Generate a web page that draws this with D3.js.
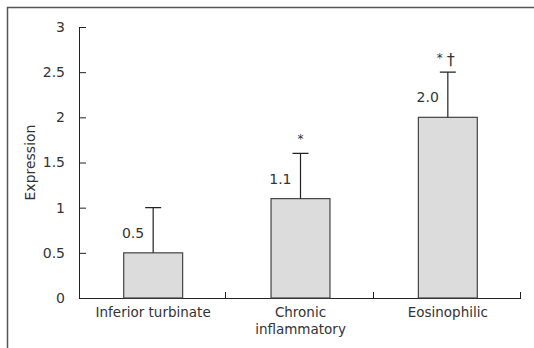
<!DOCTYPE html>
<html>
<head>
<meta charset="utf-8">
<script src="https://cdn.jsdelivr.net/npm/d3@7"></script>
<style>
  body { margin: 0; background: #fff; }
  text { font-family: "DejaVu Sans", sans-serif; fill: #333; }
</style>
</head>
<body>
<svg id="chart" width="534" height="348"></svg>
<script>
var categories = ["Inferior turbinate", "Chronic\ninflammatory", "Eosinophilic"];
var means = [0.5, 1.1, 2.0];
var sds = [0.5, 0.5, 0.5];
var valueLabels = ["0.5", "1.1", "2.0"];
var marks = ["", "*", "* \u2020"];
var yTicks = [0, 0.5, 1, 1.5, 2, 2.5, 3];

var svg = d3.select("#chart");
var mLeft = 79, mRight = 521, mTop = 27, mBottom = 298;

// frame (left + top only)
svg.append("path")
  .attr("d", "M7.5,348 V7.5 H534")
  .attr("fill", "none")
  .attr("stroke", "#555")
  .attr("stroke-width", 1.5);

var x = d3.scaleBand().domain(d3.range(categories.length)).range([mLeft, mRight]).paddingInner(0.6).paddingOuter(0.3);
var xb = d3.scaleBand().domain(d3.range(categories.length)).range([mLeft, mRight]);
var y = d3.scaleLinear().domain([0, 3]).range([mBottom, mTop]);

// y axis
var yAxis = svg.append("g").attr("transform", "translate(" + mLeft + ",0)")
  .call(d3.axisLeft(y).tickValues(yTicks).tickSize(-7).tickPadding(14).tickFormat(d3.format("")));
yAxis.select(".domain").attr("stroke", "#222").attr("d", "M0.5," + mTop + "V" + mBottom);
yAxis.selectAll(".tick line").attr("stroke", "#222");
yAxis.selectAll(".tick text").style("font-size", "14px").style("font-family", "DejaVu Sans").attr("fill", "#333");

// x axis line with ticks between categories
svg.append("line").attr("x1", mLeft).attr("x2", mRight).attr("y1", mBottom + 0.5).attr("y2", mBottom + 0.5).attr("stroke", "#222");
svg.selectAll(".xtick").data(d3.range(1, categories.length + 1)).enter().append("line")
  .attr("x1", function (i) { return Math.round(xb.step() * i + mLeft) - 0.5; })
  .attr("x2", function (i) { return Math.round(xb.step() * i + mLeft) - 0.5; })
  .attr("y1", mBottom).attr("y2", mBottom - 6)
  .attr("stroke", "#222");

// bars
svg.selectAll(".bar").data(means).enter().append("rect")
  .attr("x", function (d, i) { return x(i) + 0.5; })
  .attr("y", function (d) { return y(d); })
  .attr("width", x.bandwidth())
  .attr("height", function (d) { return y(0) - y(d); })
  .attr("fill", "#dcdcdc")
  .attr("stroke", "#444")
  .attr("stroke-width", 1.2);

// error bars
var cx = function (i) { return x(i) + x.bandwidth() / 2 + 0.5; };
svg.selectAll(".err").data(means).enter().append("path")
  .attr("d", function (d, i) {
    var c = cx(i), t = y(d + sds[i]);
    return "M" + c + "," + y(d) + "V" + t + "M" + (c - 8) + "," + t + "H" + (c + 8);
  })
  .attr("fill", "none").attr("stroke", "#222").attr("stroke-width", 1.2);

// value labels
svg.selectAll(".val").data(means).enter().append("text")
  .attr("x", function (d, i) { return cx(i) - 9; })
  .attr("y", function (d) { return y(d) - 15; })
  .attr("text-anchor", "end")
  .style("font-size", "14px")
  .text(function (d, i) { return valueLabels[i]; });

// significance marks: small raised star, taller dagger
svg.selectAll(".mark").data(means).enter().append("text")
  .attr("x", function (d, i) { return cx(i) - (i === 2 ? 2 : 0); })
  .attr("y", function (d, i) { return y(d + sds[i]) - 7; })
  .attr("text-anchor", "middle")
  .each(function (d, i) {
    var t = d3.select(this);
    marks[i].split(" ").forEach(function (m, k) {
      if (!m) return;
      t.append("tspan")
        .attr("dx", k ? 4 : 0)
        .attr("dy", m === "*" ? -3 : 3)
        .style("font-size", m === "*" ? "12px" : "16px")
        .text(m);
    });
  });

// category labels
svg.selectAll(".cat").data(categories).enter().append("text")
  .attr("x", function (d, i) { return cx(i); })
  .attr("y", mBottom + 19)
  .attr("text-anchor", "middle")
  .style("font-size", "13.5px")
  .each(function (d) {
    var t = d3.select(this);
    d.split("\n").forEach(function (line, k) {
      t.append("tspan").attr("x", t.attr("x")).attr("dy", k ? 17 : 0).text(line);
    });
  });

// y title
svg.append("text")
  .attr("transform", "translate(35," + (mTop + mBottom) / 2 + ") rotate(-90)")
  .attr("text-anchor", "middle")
  .style("font-size", "14px")
  .text("Expression");
</script>
</body>
</html>
